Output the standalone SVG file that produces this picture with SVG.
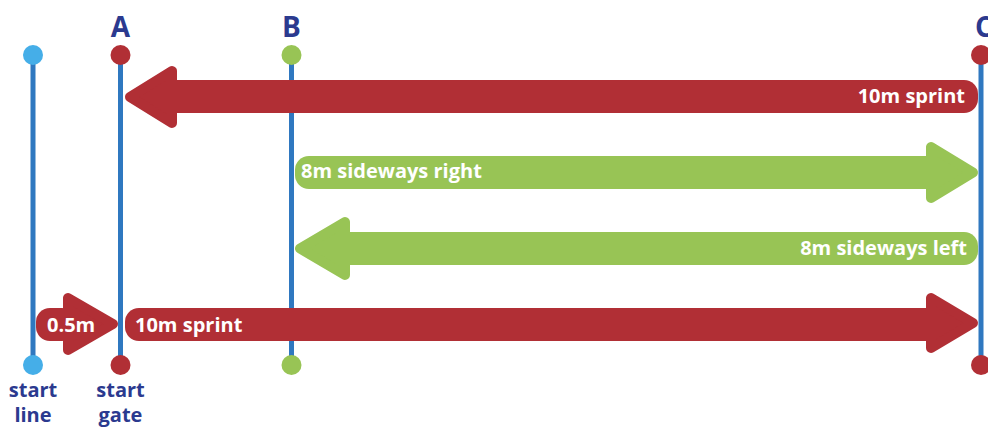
<svg xmlns="http://www.w3.org/2000/svg" width="988" height="428" viewBox="0 0 988 428">
<style>
.post{stroke:#2f78c0;stroke-width:5;fill:none}
.red{fill:#b12f35}
.green{fill:#98c455}
.redh{fill:#b12f35;stroke:#b12f35;stroke-width:10;stroke-linejoin:round}
.greenh{fill:#98c455;stroke:#98c455;stroke-width:10;stroke-linejoin:round}
.lbl{font-family:"Open Sans","Noto Sans",sans-serif;font-weight:bold;fill:#2b3a8f}
.wt{font-family:"Open Sans","Noto Sans",sans-serif;font-weight:bold;font-size:20px;fill:#ffffff}
</style>
<g id="posts">
<g id="start-line">
<line class="post" x1="33" y1="55" x2="33" y2="365"/>
<circle cx="33" cy="55" r="10" fill="#45aee8"/>
<circle cx="33" cy="365" r="10" fill="#45aee8"/>
<text class="lbl" x="33" y="397" font-size="20" text-anchor="middle">start</text>
<text class="lbl" x="33" y="422" font-size="20" text-anchor="middle">line</text>
</g>
<g id="post-A">
<line class="post" x1="120.5" y1="55" x2="120.5" y2="365"/>
<circle cx="120.5" cy="55" r="10" fill="#b12f35"/>
<circle cx="120.5" cy="365" r="10" fill="#b12f35"/>
<text class="lbl" x="120.5" y="37" font-size="28" text-anchor="middle">A</text>
<text class="lbl" x="120.5" y="397" font-size="20" text-anchor="middle">start</text>
<text class="lbl" x="120.5" y="422" font-size="20" text-anchor="middle">gate</text>
</g>
<g id="post-B">
<line class="post" x1="291.5" y1="55" x2="291.5" y2="365"/>
<circle cx="291.5" cy="55" r="10" fill="#98c455"/>
<circle cx="291.5" cy="365" r="10" fill="#98c455"/>
<text class="lbl" x="291.5" y="37" font-size="28" text-anchor="middle">B</text>
</g>
<g id="post-C">
<line class="post" x1="981" y1="55" x2="981" y2="365"/>
<circle cx="981" cy="55" r="10" fill="#b12f35"/>
<circle cx="981" cy="365" r="10" fill="#b12f35"/>
<text class="lbl" x="984" y="37" font-size="28" text-anchor="middle">C</text>
</g>
</g>
<g id="connectors">
<g id="sprint-back">
<rect class="red" x="160" y="80" width="818" height="33" rx="14"/>
<polygon class="redh" points="130,97 172,71 172,123"/>
<text class="wt" x="965" y="103" text-anchor="end">10m sprint</text>
</g>
<g id="sideways-right">
<rect class="green" x="295" y="156" width="645" height="33" rx="14"/>
<polygon class="greenh" points="931,147 931,198 973,172.5"/>
<text class="wt" x="301" y="178">8m sideways right</text>
</g>
<g id="sideways-left">
<rect class="green" x="335" y="232" width="643" height="33" rx="14"/>
<polygon class="greenh" points="300,248.5 345,222 345,275"/>
<text class="wt" x="967" y="255" text-anchor="end">8m sideways left</text>
</g>
<g id="sprint-out">
<rect class="red" x="125" y="308" width="815" height="33" rx="14"/>
<polygon class="redh" points="931,298 931,348 973,323"/>
<text class="wt" x="135" y="332">10m sprint</text>
</g>
<g id="half-metre">
<rect class="red" x="36" y="308" width="40" height="33" rx="14"/>
<polygon class="redh" points="68,298 68,350 113,324"/>
<text class="wt" x="47" y="332">0.5m</text>
</g>
</g>
</svg>
